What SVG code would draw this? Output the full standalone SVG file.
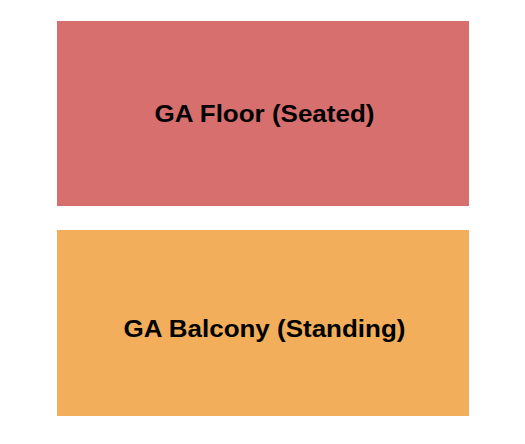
<svg xmlns="http://www.w3.org/2000/svg" width="525" height="444" viewBox="0 0 525 444">
<style>
.lbl{font-family:"Liberation Sans",Arial,sans-serif;font-weight:bold;font-size:23px;fill:#000;text-anchor:middle}
</style>
<rect width="525" height="444" fill="#fff"/>
<g id="floor">
<rect x="57" y="21" width="412" height="185" fill="#D86F6F"/>
<text class="lbl" transform="translate(264.5,122) scale(1.13,1)">GA Floor (Seated)</text>
</g>
<g id="balcony">
<rect x="57" y="230" width="412" height="186" fill="#F2AE5A"/>
<text class="lbl" transform="translate(264.5,337) scale(1.13,1)">GA Balcony (Standing)</text>
</g>
<g id="connectors"/>
</svg>
